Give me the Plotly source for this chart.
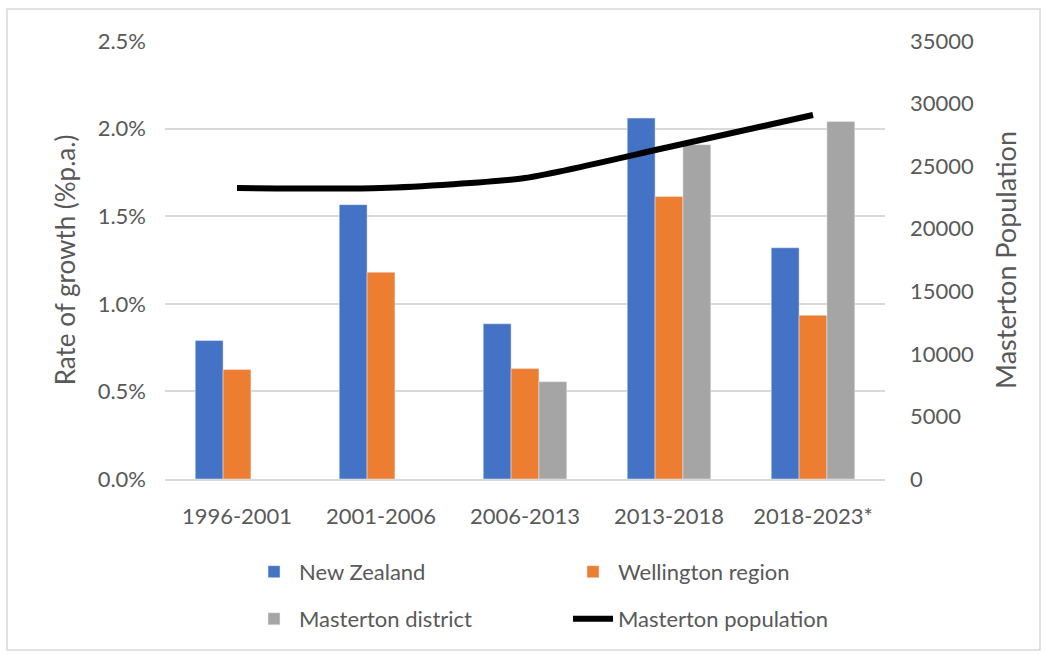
import plotly.graph_objects as go

categories = ["1996-2001", "2001-2006", "2006-2013", "2013-2018", "2018-2023*"]
new_zealand = [0.79, 1.566, 0.886, 2.06, 1.32]
wellington = [0.625, 1.18, 0.63, 1.613, 0.934]
masterton_district = [None, None, 0.555, 1.908, 2.041]
masterton_population = [23250, 23250, 24050, 26530, 29090]

FONT = "Lato"
TXT = "#595959"
GRID = "#D9D9D9"

fig = go.Figure()
fig.add_trace(go.Bar(x=categories, y=new_zealand, name="New Zealand",
                     marker_color="#4472C4", legend="legend"))
fig.add_trace(go.Bar(x=categories, y=wellington, name="Wellington region",
                     marker_color="#ED7D31", legend="legend"))
fig.add_trace(go.Bar(x=categories, y=masterton_district, name="Masterton district",
                     marker_color="#A5A5A5", legend="legend2"))
fig.add_trace(go.Scatter(x=categories, y=masterton_population, name="Masterton population",
                         mode="lines", line=dict(color="black", width=6, shape="spline", smoothing=0.6),
                         yaxis="y2", legend="legend2"))

legend_common = dict(orientation="h", xanchor="left", yanchor="middle",
                     font=dict(family=FONT, size=22, color=TXT),
                     entrywidth=264, entrywidthmode="pixels", itemwidth=40,
                     bgcolor="rgba(0,0,0,0)", traceorder="normal")

fig.update_layout(
    width=1045, height=654,
    margin=dict(l=165, r=160, t=41, b=175),
    paper_bgcolor="white", plot_bgcolor="white",
    font=dict(family=FONT, size=22, color=TXT),
    barmode="group", bargap=0.42, bargroupgap=0,
    xaxis=dict(showgrid=False, showline=True, linecolor=GRID, linewidth=1.5,
               tickfont=dict(size=22, color=TXT), ticklabelstandoff=17),
    yaxis=dict(range=[0, 2.5], dtick=0.5, tickformat=".1f", ticksuffix="%",
               showgrid=True, gridcolor=GRID, gridwidth=1.5, zeroline=False,
               tickfont=dict(size=22, color=TXT), ticklabelstandoff=18,
               title=dict(text="Rate of growth (%p.a.)", font=dict(size=26, color=TXT), standoff=14)),
    yaxis2=dict(range=[0, 35000], dtick=5000, overlaying="y", side="right",
                showgrid=False, zeroline=False, tickformat="d",
                tickfont=dict(size=22, color=TXT), ticklabelstandoff=24,
                title=dict(text="Masterton Population", font=dict(size=27, color=TXT), standoff=24)),
    legend=dict(x=0.1167, y=-0.212, **legend_common),
    legend2=dict(x=0.1167, y=-0.3196, **legend_common),
    showlegend=True,
    shapes=[dict(type="rect", xref="paper", yref="paper",
                 x0=-0.2194, x1=1.2153, y0=-0.3904, y1=1.0731,
                 line=dict(color=GRID, width=1.5), fillcolor="rgba(0,0,0,0)", layer="below")],
)

fig.write_html("out.html")
